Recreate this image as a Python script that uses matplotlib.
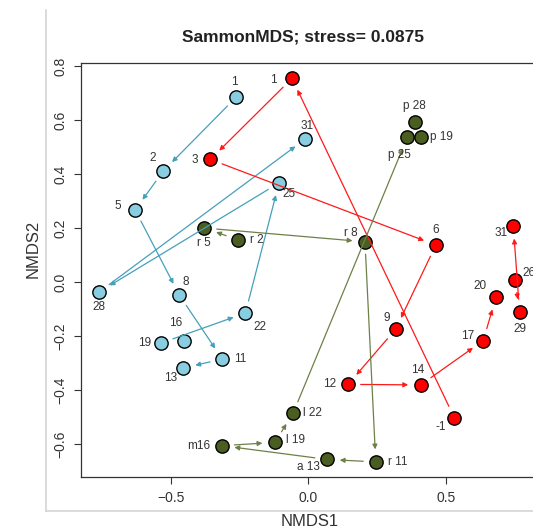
import numpy as np
import matplotlib.pyplot as plt
from matplotlib.lines import Line2D

plt.rcParams['font.family'] = ['Liberation Sans', 'DejaVu Sans']

# blue series (in time order)
blue_lab = ['1', '2', '5', '8', '11', '13', '16', '19', '22', '25', '28', '31']
blue_x = [-0.262, -0.527, -0.629, -0.469, -0.313, -0.455, -0.453, -0.535, -0.229, -0.107, -0.760, -0.011]
blue_y = [0.685, 0.411, 0.267, -0.048, -0.285, -0.319, -0.219, -0.226, -0.115, 0.367, -0.037, 0.530]

# red series
red_lab = ['-1', '1', '3', '6', '9', '12', '14', '17', '20', '26', '29', '31']
red_x = [0.529, -0.060, -0.356, 0.462, 0.316, 0.144, 0.407, 0.634, 0.680, 0.750, 0.766, 0.743]
red_y = [-0.502, 0.754, 0.454, 0.137, -0.175, -0.379, -0.381, -0.217, -0.057, 0.007, -0.110, 0.207]

# green series
green_lab = ['r 2', 'r 5', 'r 8', 'r 11', 'a 13', 'm16', 'l 19', 'l 22', 'p 25', 'p 28', 'p 19']
green_x = [-0.256, -0.378, 0.205, 0.244, 0.068, -0.314, -0.122, -0.056, 0.359, 0.385, 0.407]
green_y = [0.156, 0.200, 0.149, -0.666, -0.657, -0.606, -0.594, -0.486, 0.537, 0.591, 0.537]

# label offsets in pixels (dx right, dy down)
blue_off = [(-2, -15), (-11, -13), (-17, -4), (7, -13), (18, 0), (-12, 10),
            (-8, -18), (-16, 0), (15, 14), (10, 11), (0, 15), (2, -13)]
red_off = [(-14, 9), (-19, 2), (-16, 1), (0, -15), (-9, -11), (-19, 0),
           (-3, -15), (-16, -5), (-16, -11), (14, -7), (0, 17), (-12, 7)]
green_off = [(19, 0), (0, 15), (-14, -9), (22, 0), (-19, 8), (-23, 0),
             (21, -2), (19, 0), (-8, 18), (0, -16), (21, 0)]

fig = plt.figure(figsize=(5.33, 5.27), dpi=100)
ax = fig.add_axes([81 / 533, 50 / 527, 461.75 / 533, 414 / 527])
ax.set_xlim(-0.8255, 0.85)
ax.set_ylim(-0.722, 0.811)

px = 72 / 100


def draw_group(xs, ys, labels, offs, fill, line):
    ax.scatter(xs, ys, s=92, c=fill, edgecolors='black', linewidths=1, zorder=2)
    for x, y, lab, (dx, dy) in zip(xs, ys, labels, offs):
        ax.annotate(lab, (x, y), xytext=(dx * px, -dy * px), textcoords='offset points',
                    ha='center', va='center', fontsize=8.5, color='#333333', zorder=4)
    pts = ax.transData.transform(np.column_stack([xs, ys]))
    for i in range(len(xs) - 1):
        if np.hypot(*(pts[i + 1] - pts[i])) < 30:
            continue
        ax.annotate('', xy=(xs[i + 1], ys[i + 1]), xytext=(xs[i], ys[i]),
                    arrowprops=dict(arrowstyle='-|>', color=line, lw=0.9,
                                    shrinkA=9, shrinkB=9, mutation_scale=7),
                    zorder=3)


draw_group(blue_x, blue_y, blue_lab, blue_off, '#89cde0', '#45a0ba')
draw_group(red_x, red_y, red_lab, red_off, '#ff0000', '#ff1a1a')
draw_group(green_x, green_y, green_lab, green_off, '#4b5e22', '#6e8048')

ax.set_xticks([-0.5, 0.0, 0.5])
ax.set_yticks([-0.6, -0.4, -0.2, 0.0, 0.2, 0.4, 0.6, 0.8])
ax.tick_params(direction='out', length=5, width=0.8, pad=5, labelsize=10,
               colors='#333333')
ax.tick_params(axis='y', labelrotation=90)
for t in ax.get_yticklabels():
    t.set_va('center')
for s in ax.spines.values():
    s.set_linewidth(0.9)
    s.set_color('#333333')

fig.text(303 / 533, 1 - 37 / 527, 'SammonMDS; stress= 0.0875', ha='center', va='center',
         fontsize=12.5, fontweight='bold', color='#222222')
fig.text(310 / 533, 1 - 521 / 527, 'NMDS1', ha='center', va='center', fontsize=12,
         color='#333333')
fig.text(33 / 533, 1 - 249 / 527, 'NMDS2', ha='center', va='center', rotation=90,
         fontsize=12, color='#333333')

# light grey frame of the original screenshot
fig.add_artist(Line2D([45.5 / 533, 45.5 / 533], [1 - 10 / 527, 1 - 511 / 527],
                      color='#d4d4d4', lw=1.2, transform=fig.transFigure))
fig.add_artist(Line2D([45.5 / 533, 1.0], [1 - 511 / 527, 1 - 511 / 527],
                      color='#d4d4d4', lw=1.2, transform=fig.transFigure))

fig.savefig('out.png', dpi=100)
